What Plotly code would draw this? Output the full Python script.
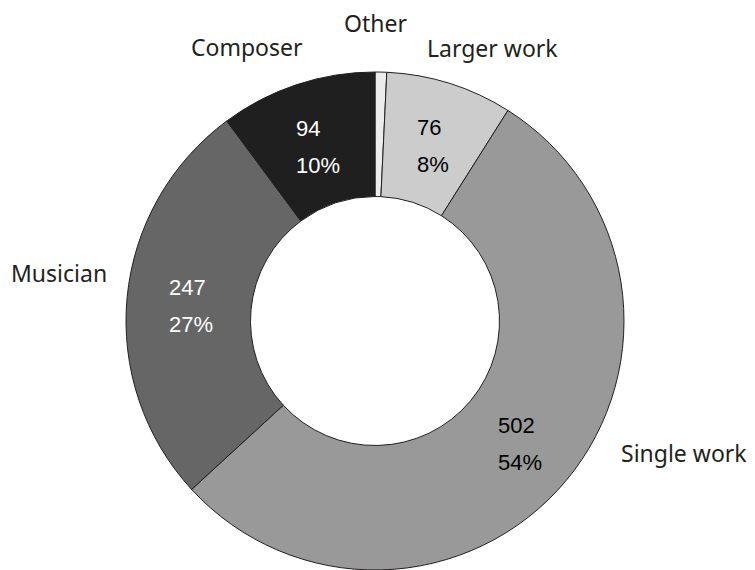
import math
import plotly.graph_objects as go

# ---- data ----
categories = ["Other", "Larger work", "Single work", "Musician", "Composer"]
counts = [7, 76, 502, 247, 94]
show_inside = [False, True, True, True, True]

# ---- styles ----
slice_colors = ["#ececec", "#cccccc", "#999999", "#666666", "#1f1f1f"]
inside_text_colors = ["#000000", "#000000", "#000000", "#ffffff", "#ffffff"]
# pixel nudges of the outside category labels from the rim point at each slice's mid-angle
label_nudge = {
    "Other": (-5, 49),
    "Larger work": (43, 36),
    "Single work": (118, 28),
    "Musician": (-68, 24),
    "Composer": (-50, 38),
}

W, H = 755, 570
PAGE_OFFSET = 8  # default page body margin
ML, MT = 126 - PAGE_OFFSET, 72 - PAGE_OFFSET
SIDE = 498
MR = W - ML - SIDE
MB = H - MT - SIDE
HOLE = 0.5

fig = go.Figure()
fig.add_trace(go.Pie(
    labels=categories,
    values=counts,
    sort=False,
    direction="clockwise",
    rotation=0,
    hole=HOLE,
    textinfo="none",
    marker=dict(colors=slice_colors, line=dict(color="#231f20", width=1)),
    showlegend=False,
))

total = sum(counts)
annotations = []
cum = 0
in_font = 22
for cat, v, show, tcol in zip(categories, counts, show_inside, inside_text_colors):
    frac_mid = (cum + v / 2) / total
    cum += v
    theta = 2 * math.pi * frac_mid
    s, c = math.sin(theta), math.cos(theta)
    # outside label, from rim point
    rx, ry = 0.5 + 0.5 * s, 0.5 + 0.5 * c
    nx, ny = label_nudge[cat]
    annotations.append(dict(
        x=rx, y=ry, xref="paper", yref="paper", text=cat, showarrow=False,
        xanchor="center", yanchor="middle", xshift=nx, yshift=ny,
        font=dict(family="Noto Sans", size=23, color="#231f20"),
    ))
    if show:
        k = (1 + HOLE) / 2
        mx, my = 0.5 + 0.5 * k * s, 0.5 + 0.5 * k * c
        val_txt = f"{v}"
        pct_txt = f"{round(v / total * 100)}%"

        def est_w(t):
            return sum(0.889 if ch == "%" else 0.556 for ch in t) * in_font

        bw = max(est_w(val_txt), est_w(pct_txt))
        left = mx - (bw / 2) / SIDE
        for txt, dy in ((val_txt, 18.5), (pct_txt, -18.5)):
            annotations.append(dict(
                x=left, y=my, xref="paper", yref="paper", text=txt, showarrow=False,
                xanchor="left", yanchor="middle", yshift=dy - 3,
                font=dict(family="Liberation Sans, Arial", size=in_font, color=tcol),
            ))

fig.update_layout(
    width=W, height=H,
    margin=dict(l=ML, r=MR, t=MT, b=MB, pad=0),
    paper_bgcolor="white", plot_bgcolor="white",
    annotations=annotations,
)

fig.write_html("out.html")
